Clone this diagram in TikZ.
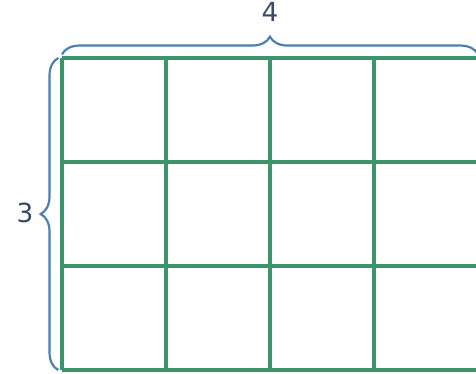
\documentclass[tikz,border=0pt]{standalone}
\usepackage{fontspec}
\setmainfont{DejaVu Sans}
\usetikzlibrary{decorations.pathreplacing}

\definecolor{gridgreen}{HTML}{3A966A}
\definecolor{bracesblue}{HTML}{4A80B2}
\definecolor{labelink}{HTML}{3A4868}

\tikzset{
  cellline/.style={gridgreen, line width=0.9pt},
  bracemark/.style={bracesblue, line width=0.6pt,
    decorate, decoration={brace, amplitude=0.17cm, raise=0.035cm}},
  countlabel/.style={labelink, font=\fontsize{7.2}{8}\selectfont, inner sep=0pt}
}

\begin{document}
\begin{tikzpicture}

    % Fixed frame (the reference is cut at the right)
    \useasboundingbox (-0.596,-0.038) rectangle (3.981,3.558);

    % Corners of the grid
    \coordinate (SW) at (0,0);
    \coordinate (NW) at (0,3);
    \coordinate (NE) at (4,3);

    % 4 x 3 grid of cells
    \draw[cellline] (0,0) grid (4,3);

    % Braces
    \draw[bracemark] (NW) -- (NE);
    \draw[bracemark] (SW) -- (NW);

    % Counts
    \node[countlabel] (width) at (2,3.44) {4};
    \node[countlabel] (height) at (-0.356,1.51) {3};

\end{tikzpicture}
\end{document}
